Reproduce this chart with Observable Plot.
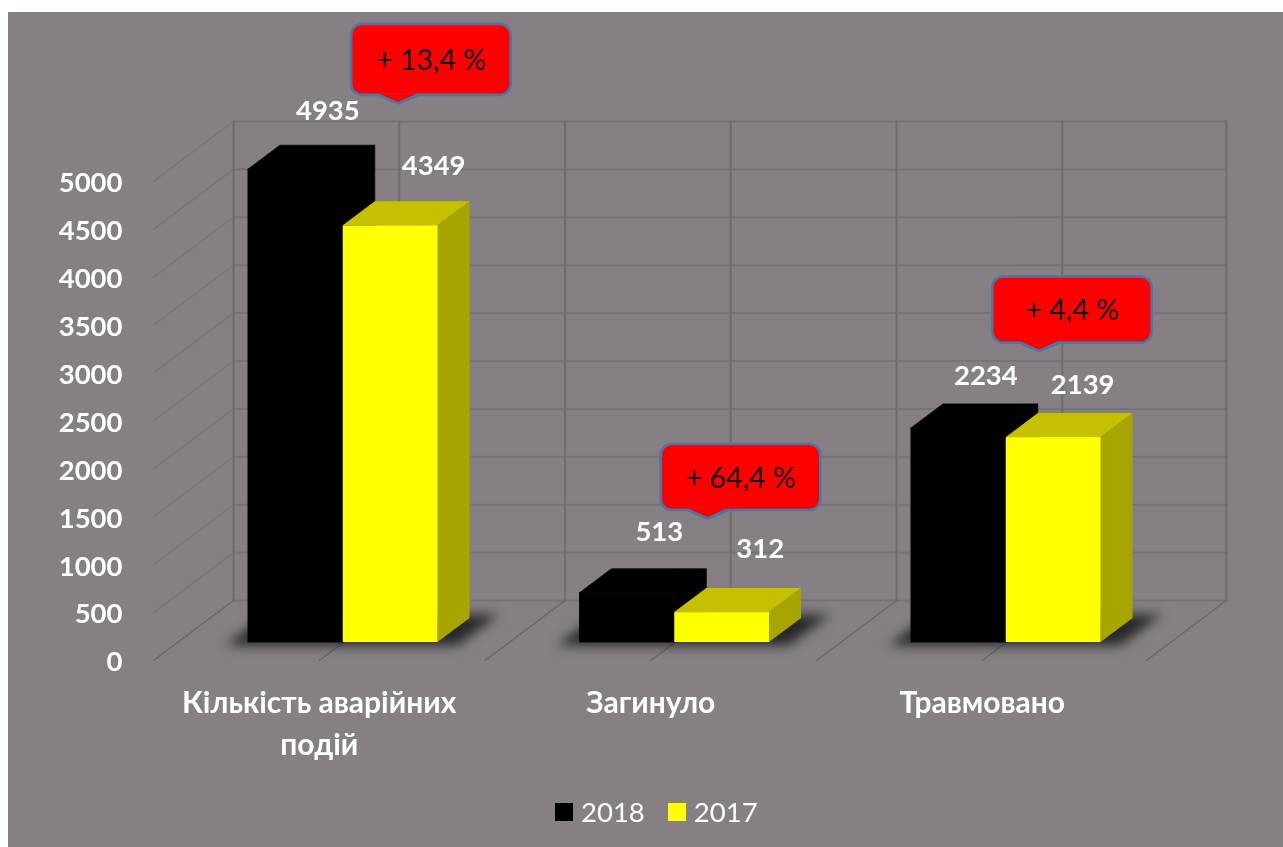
<!DOCTYPE html>
<html>
<head>
<meta charset="utf-8">
<script src="https://cdn.jsdelivr.net/npm/d3@7"></script>
<script src="https://cdn.jsdelivr.net/npm/@observablehq/plot@0.6"></script>
<style>
html,body{margin:0;padding:0;background:#fff;overflow:hidden;width:1283px;height:847px}
#panel{position:absolute;left:8px;top:12px;width:1275px;height:835px;background:#868085;font-family:Lato,sans-serif}
#panel svg{display:block;filter:blur(0.45px)}
#legend{position:absolute;left:547px;top:791px;display:flex;align-items:center;color:#fff;font-size:27.5px;line-height:18px;height:18px;filter:blur(0.45px)}
#legend i{display:inline-block;width:18px;height:18px;margin-right:8px}
#legend span{margin-right:23px}
</style>
</head>
<body>
<div id="panel"></div>
<script>
// ---- values ----
const categories = ["Кількість аварійних\nподій", "Загинуло", "Травмовано"];
const seriesNames = ["2018", "2017"];
const values2018 = [4935, 513, 2234];
const values2017 = [4349, 312, 2139];
const changes = ["+ 13,4 %", "+ 64,4 %", "+ 4,4 %"];
const yTicks = [0, 500, 1000, 1500, 2000, 2500, 3000, 3500, 4000, 4500, 5000];

// ---- 3D layout (pixels per unit of each scale, depth offsets, annotations) ----
const pxPerCat = 331.5, pxPerVal = 0.0958;
const px = p => p / pxPerCat, pv = p => p / pxPerVal;
const DX = px(80), DY = pv(60);
const barFront = 0.3, barBack = 0.7;
const barEdges = [0.214, 0.5, 0.786];
const gridSteps = [0, 0.5, 1, 1.5, 2, 2.5, 2.995];
const categoryTicks = [0.5, 1.5, 2.5];
const X = (c, d = 0) => c + d * DX;
const Y = (v, d = 0) => v + d * DY;

const black = "#000000", face = "#ffff00", top_ = "#c5c100", side = "#a9a500";
const backLine = "#767376", verticalLine = "#6d6d6d", wallLine = "#787578", floorLine = "#676667";

function barFaces(cat, v, l, r, prefix) {
  const xl = cat + l, xr = cat + r;
  const topF = Y(v, barFront), topB = Y(v, barBack);
  const baseF = Y(0, barFront), baseB = Y(0, barBack);
  return {
    front: {x1: X(xl, barFront), x2: X(xr, barFront), y1: baseF, y2: topF},
    top: [
      {id: prefix + "t" + cat, x: X(xl, barFront), y1: topF, y2: topF},
      {id: prefix + "t" + cat, x: X(xl, barBack), y1: topF, y2: topB},
      {id: prefix + "t" + cat, x: X(xr, barFront), y1: topF, y2: topB},
      {id: prefix + "t" + cat, x: X(xr, barBack), y1: topB, y2: topB}
    ],
    side: [
      {id: prefix + "s" + cat, x: X(xr, barFront), y1: baseF, y2: topF},
      {id: prefix + "s" + cat, x: X(xr, barBack), y1: baseB, y2: topB}
    ]
  };
}
const blackBars = values2018.map((v, i) => barFaces(i, v, barEdges[0], barEdges[1], "k"));
const yellowBars = values2017.map((v, i) => barFaces(i, v, barEdges[1], barEdges[2], "y"));

// grid lines
const backLines = yTicks.flatMap(v => [
  {id: "b" + v, x: X(0, 1), y: Y(v, 1)}, {id: "b" + v, x: X(gridSteps[6], 1), y: Y(v, 1)}
]);
const verticalLines = gridSteps.flatMap(c => [
  {id: "v" + c, x: X(c, 1), y: Y(0, 1)}, {id: "v" + c, x: X(c, 1), y: Y(5000, 1)}
]);
const wallLines = yTicks.slice(1).flatMap(v => [
  {id: "w" + v, x: X(0, 0), y: Y(v, 0)}, {id: "w" + v, x: X(0, 1), y: Y(v, 1)}
]);
const floorLines = gridSteps.flatMap(c => [
  {id: "f" + c, x: X(c, 0), y: Y(0, 0)}, {id: "f" + c, x: X(c, 1), y: Y(0, 1)}
]);

// floor shadows
const shadowFront = 0.24, shadowBack = 0.76;
const shadows = categories.flatMap((_, c) => {
  const l = c + 0.16, r = c + 0.86, id = "sh" + c;
  const yF = Y(0, shadowFront), yB = Y(0, shadowBack);
  return [
    {id, x: X(l, shadowFront), y1: yF, y2: yF},
    {id, x: X(l, shadowBack), y1: yF, y2: yB},
    {id, x: X(r, shadowFront), y1: yF, y2: yB},
    {id, x: X(r, shadowBack), y1: yB, y2: yB}
  ];
});

// value labels, nudged in pixels from the back-centre of each bar's top
const nudgeX2018 = [0, 0, -5], nudgeY2018 = [36, 39, 30];
const nudgeX2017 = [11, 6, -3], nudgeY2017 = [37, 41, 30];
const barLabels = [
  ...values2018.map((v, i) => ({t: String(v),
    x: X(i + (barEdges[0] + barEdges[1]) / 2, barBack) + px(nudgeX2018[i]),
    y: Y(v, barBack) + pv(nudgeY2018[i])})),
  ...values2017.map((v, i) => ({t: String(v),
    x: X(i + (barEdges[1] + barEdges[2]) / 2, barBack) + px(nudgeX2017[i]),
    y: Y(v, barBack) + pv(nudgeY2017[i])}))
];

// callouts: tip position on the scales, box sizes in pixels
const tipCat = [0.738, 1.672, 2.672];
const tipVal = [5815, 1482, 3230];
const boxLeft = px(46.5), boxRight = px(113), boxGap = pv(8), boxH = [71, 66, 66];
const ptrL = px(19), ptrR = px(19);
const boxes = changes.map((t, i) => {
  const bottom = tipVal[i] + boxGap;
  return {t, x1: tipCat[i] - boxLeft, x2: tipCat[i] + boxRight, y1: bottom, y2: bottom + pv(boxH[i])};
});
const pointers = changes.flatMap((_, i) => {
  const b = tipVal[i] + boxGap, id = "p" + i;
  return [
    {id, x: tipCat[i] - ptrL, y1: b + pv(1.5), y2: b + pv(1.5), y: b},
    {id, x: tipCat[i], y1: tipVal[i], y2: b + pv(1.5), y: tipVal[i]},
    {id, x: tipCat[i] + ptrR, y1: b + pv(1.5), y2: b + pv(1.5), y: b}
  ];
});

const blur = amount => (index, scales, values, dims, ctx, next) => {
  const g = next(index, scales, values, dims, ctx);
  g.style.filter = `blur(${amount}px)`;
  return g;
};

const area = (data, fill, extra = {}) =>
  Plot.areaY(data, {x: "x", y1: "y1", y2: "y2", z: "id", fill, ...extra});
const gridMark = (data, stroke, strokeWidth) =>
  Plot.line(data, {x: "x", y: "y", z: "id", stroke, strokeWidth});

const chart = Plot.plot({
  width: 1275,
  height: 770,
  marginLeft: 145,
  marginRight: 135.5,
  marginTop: 169,
  marginBottom: 122,
  x: {domain: [0, 3]},
  y: {domain: [0, 5000]},
  style: {background: "transparent", color: "white", fontFamily: "Lato, sans-serif"},
  marks: [
    gridMark(wallLines, wallLine, 1.4),
    gridMark(backLines, backLine, 2),
    gridMark(verticalLines, verticalLine, 2),
    gridMark(floorLines, floorLine, 1.4),
    area(shadows, "#111", {fillOpacity: 0.8, render: blur(6)}),
    ...blackBars.flatMap(b => [
      Plot.rect([b.front], {x1: "x1", x2: "x2", y1: "y1", y2: "y2", fill: black, stroke: black, strokeWidth: 0.8}),
      area(b.top, black, {stroke: black, strokeWidth: 0.8}),
      area(b.side, black, {stroke: black, strokeWidth: 0.8})
    ]),
    ...yellowBars.flatMap(b => [
      area(b.top, top_),
      area(b.side, side),
      Plot.rect([b.front], {x1: "x1", x2: "x2", y1: "y1", y2: "y2", fill: face})
    ]),
    Plot.axisY({ticks: yTicks, tickFormat: d3.format("d"), tickSize: 0, tickPadding: 31, dy: 2,
      fontSize: 27.5, fontWeight: 700, label: null}),
    Plot.axisX({ticks: categoryTicks, tickFormat: c => categories[Math.floor(c)],
      tickSize: 0, tickPadding: 23, lineHeight: 1.39, fontSize: 30, fontWeight: 700, label: null}),
    Plot.text(barLabels, {x: "x", y: "y", text: "t", dy: 1.5, fontSize: 27.5, fontWeight: 700, fill: "white"}),
    Plot.rect(boxes, {x1: "x1", x2: "x2", y1: "y1", y2: "y2", fill: "#ff0000", stroke: "#4a76a6", strokeWidth: 2.6, rx: 11}),
    area(pointers, "#ff0000"),
    Plot.line(pointers, {x: "x", y: "y", z: "id", stroke: "#4a76a6", strokeWidth: 2.6}),
    Plot.text(boxes, {x: d => (d.x1 + d.x2) / 2, y: d => (d.y1 + d.y2) / 2, text: "t", dy: 1,
      fontSize: 28.5, fontWeight: 400, fill: "#0a0000"})
  ]
});
const panel = document.getElementById("panel");
panel.appendChild(chart);

const legend = document.createElement("div");
legend.id = "legend";
[black, face].forEach((c, i) => {
  const sw = document.createElement("i");
  sw.style.background = c;
  const label = document.createElement("span");
  label.textContent = seriesNames[i];
  legend.append(sw, label);
});
panel.appendChild(legend);
</script>
</body>
</html>
